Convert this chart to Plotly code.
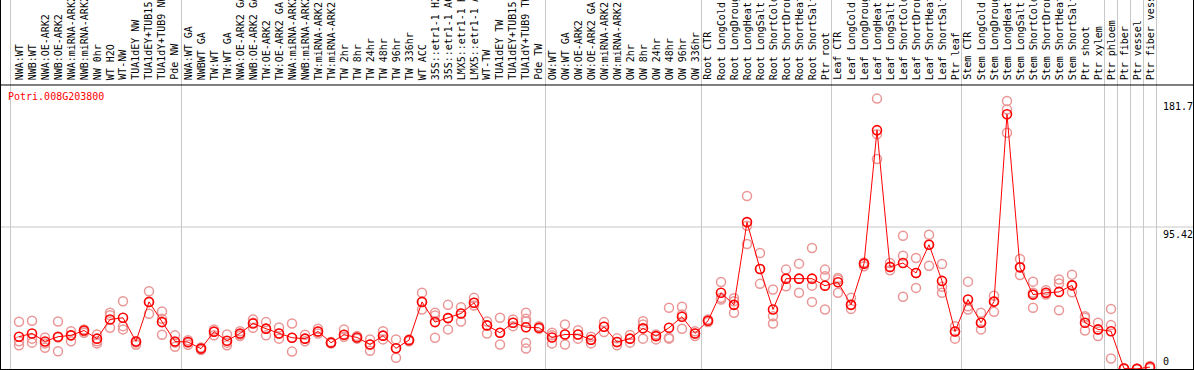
import plotly.graph_objects as go

title_text = "Potri.008G203800"

labels = [
    "NWA:WT", "NWB:WT", "NWA:OE-ARK2", "NWB:OE-ARK2", "NWA:miRNA-ARK2", "NWB:miRNA-ARK2",
    "NW 0hr", "WT H2O", "WT-NW", "TUA1dEY NW", "TUA1dEY+TUB15 NW", "TUA1dY+TUB9 NW", "Pde NW",
    "NWA:WT GA", "NWBWT GA", "TW:WT", "TW:WT GA", "NWA:OE-ARK2 GA", "NWB:OE-ARK2 GA",
    "TW:OE-ARK2", "TW:OE-ARK2 GA", "NWA:miRNA-ARK2 GA", "NWB:miRNA-ARK2 GA", "TW:miRNA-ARK2",
    "TW:miRNA-ARK2 GA", "TW 2hr", "TW 8hr", "TW 24hr", "TW 48hr", "TW 96hr", "TW 336hr",
    "WT ACC", "35S::etr1-1 H2O", "35S::etr1-1 ACC", "LMX5::etr1-1 H2O", "LMX5::etr1-1 ACC",
    "WT-TW", "TUA1dEY TW", "TUA1dEY+TUB15 TW", "TUA1dY+TUB9 TW", "Pde TW",
    "OW:WT", "OW:WT GA", "OW:OE-ARK2", "OW:OE-ARK2 GA", "OW:miRNA-ARK2", "OW:miRNA-ARK2 GA",
    "OW 2hr", "OW 8hr", "OW 24hr", "OW 48hr", "OW 96hr", "OW 336hr",
    "Root CTR", "Root LongCold", "Root LongDrought", "Root LongHeat", "Root LongSalt",
    "Root ShortCold", "Root ShortDrought", "Root ShortHeat", "Root ShortSalt", "Ptr root",
    "Leaf CTR", "Leaf LongCold", "Leaf LongDrought", "Leaf LongHeat", "Leaf LongSalt",
    "Leaf ShortCold", "Leaf ShortDrought", "Leaf ShortHeat", "Leaf ShortSalt", "Ptr leaf",
    "Stem CTR", "Stem LongCold", "Stem LongDrought", "Stem LongHeat", "Stem LongSalt",
    "Stem ShortCold", "Stem ShortDrought", "Stem ShortHeat", "Stem ShortSalt", "Ptr shoot",
    "Ptr xylem", "Ptr phloem", "Ptr fiber", "Ptr vessel", "Ptr fiber vessel",
]

means = [
    21.7, 23.9, 18.5, 21.7, 22.6, 25.9, 20.4, 33.3, 34.4, 18.5, 45.1, 31.5, 18.5,
    18.1, 13.7, 25.0, 19.0, 23.9, 30.6, 27.1, 23.9, 21.0, 20.4, 25.2, 17.7, 23.0, 21.2,
    16.5, 22.4, 13.9, 19.4, 45.1, 31.5, 34.2, 37.3, 44.5, 29.3, 24.4, 31.1, 28.1, 27.7,
    21.2, 23.2, 23.2, 19.7, 28.4, 18.1, 20.4, 27.3, 22.1, 27.7, 35.1, 23.9,
    32.4, 51.2, 43.1, 98.7, 67.2, 40.0, 60.7, 60.7, 60.7, 56.0,
    58.3, 43.1, 70.8, 160.5, 68.6, 71.2, 64.5, 83.5, 59.2, 25.2,
    46.7, 31.1, 45.3, 171.2, 68.3, 50.0, 51.2, 51.8, 56.2, 31.1,
    26.6, 25.4, 0.3, 0.1, 1.3,
]

reps = [
    [31.7, 18.7, 15.9], [32.4, 20.4, 17.7], [21.2, 17.2, 14.3], [31.9, 21.2, 11.9],
    [25.4, 22.6, 18.7], [26.6, 25.4, 24.4], [23.2, 18.7, 17.2], [37.8, 36.2, 27.7],
    [45.5, 28.8, 26.6], [18.7, 17.7, 16.3], [52.2, 45.1, 37.1], [38.6, 33.7, 23.0],
    [22.6, 17.7, 15.0],
    [19.4, 17.7, 16.3], [14.5, 13.7, 12.7], [26.6, 25.4, 22.6], [23.2, 17.7, 15.9],
    [25.4, 23.2, 22.1], [33.3, 31.1, 27.7], [31.5, 27.1, 22.6], [27.9, 23.9, 20.4],
    [30.6, 21.0, 11.7], [23.0, 20.4, 18.7], [27.1, 25.2, 23.9], [18.1, 17.7, 17.2],
    [26.6, 23.0, 21.7], [22.1, 21.2, 20.4], [19.9, 16.5, 12.3], [25.4, 22.4, 19.9],
    [19.9, 13.9, 7.6], [19.9, 19.4, 18.7], [51.2, 45.1, 40.0], [37.8, 36.0, 21.0],
    [43.1, 34.2, 26.6], [41.5, 37.3, 31.9], [47.8, 44.5, 42.7], [31.9, 29.3, 23.9],
    [34.4, 24.4, 16.5], [33.3, 31.1, 28.8], [37.8, 33.7, 31.9, 17.7, 13.7],
    [28.8, 27.7, 27.1],
    [24.4, 22.6, 17.2], [29.9, 23.2, 16.5], [26.1, 23.2, 20.4], [21.7, 19.7, 17.2],
    [31.5, 28.4, 24.8], [20.6, 18.1, 15.9], [22.8, 20.4, 17.7], [32.1, 29.9, 20.4],
    [23.2, 22.1, 19.9], [41.1, 21.0, 20.4], [41.8, 36.6, 27.1], [25.4, 23.9, 22.1],
    [33.3, 32.4, 31.5], [58.5, 47.8, 46.7], [47.5, 45.5, 37.8], [116.3, 96.2, 84.0],
    [77.9, 67.2, 57.2], [53.4, 35.5, 30.6], [66.8, 60.7, 55.6], [70.8, 60.7, 51.2],
    [81.3, 56.0, 45.1], [66.8, 62.3, 40.0],
    [61.2, 60.1, 51.2], [47.8, 43.1, 40.4], [71.6, 70.8, 69.0], [181.7, 157.8, 141.1],
    [71.2, 68.6, 66.3], [89.5, 76.1, 48.5], [74.6, 64.5, 54.5], [90.2, 83.5, 69.4],
    [70.6, 55.2, 51.2], [28.8, 25.2, 20.4],
    [58.7, 42.2, 40.0], [37.8, 31.1, 26.6], [49.3, 45.3, 38.4], [180.1, 174.4, 158.7],
    [73.9, 68.3, 63.2], [58.7, 51.2, 41.1], [52.9, 51.2, 50.0], [60.1, 57.4, 39.5],
    [63.4, 56.2, 51.6], [35.5, 34.4, 25.9],
    [31.1, 26.6, 22.1], [40.4, 29.5, 7.0], [0.5, 0.3, 0.0], [0.2, 0.1, 0.0],
    [2.0, 1.1, 0.5],
]

group_breaks = [-0.65, 12.5, 40.5, 52.5, 62.5, 72.5, 83.5, 84.5, 85.5, 86.5, 87.5]
y_tick_vals = [181.7, 95.42, 0]
y_tick_text = ["181.7", "95.42", "0"]
grid_vals = [95.42]

Y_PANEL_TOP = 190.84   # top edge of data panel (value)
Y_MAX = 247.95         # top of figure (label band above panel)
LABEL_Y = 192.6

x_idx = list(range(len(labels)))
rx, ry = [], []
for i, r in enumerate(reps):
    for v in r:
        rx.append(i)
        ry.append(v)

FONT = "DejaVu Sans Mono"

fig = go.Figure()
fig.add_trace(go.Scatter(
    x=rx, y=ry, mode="markers",
    marker=dict(symbol="circle-open", size=9, color="#eb9696", line=dict(width=1.5)),
    hoverinfo="skip",
))
fig.add_trace(go.Scatter(
    x=x_idx, y=means, mode="lines+markers",
    line=dict(color="#ff0000", width=1),
    marker=dict(symbol="circle-open", size=9, color="#ff0000", line=dict(width=1.6)),
))

shapes = []
for b in group_breaks:
    shapes.append(dict(type="line", xref="x", yref="paper", x0=b, x1=b, y0=0, y1=1,
                       line=dict(color="#c8c8c8", width=1), layer="below"))
for g in grid_vals:
    shapes.append(dict(type="line", xref="paper", yref="y", x0=0, x1=1, y0=g, y1=g,
                       line=dict(color="#c8c8c8", width=1), layer="below"))
shapes.append(dict(type="line", xref="paper", yref="y", x0=0, x1=1,
                   y0=Y_PANEL_TOP, y1=Y_PANEL_TOP, line=dict(color="black", width=1)))

annotations = []
for i, lab in enumerate(labels):
    annotations.append(dict(
        x=i, y=LABEL_Y, xref="x", yref="y", text=lab, textangle=-90, showarrow=False,
        xanchor="center", yanchor="bottom",
        font=dict(family=FONT, size=10, color="black"),
    ))
annotations.append(dict(
    x=0.004, y=182.8, xref="paper", yref="y", text=title_text, showarrow=False,
    xanchor="left", yanchor="middle", font=dict(family=FONT, size=10, color="#ff0000"),
))
for v, t in zip(y_tick_vals, y_tick_text):
    annotations.append(dict(
        x=0.973, y=v, xref="paper", yref="y", text=t, showarrow=False,
        xanchor="left", yanchor="top" if v > 0 else "bottom",
        font=dict(family=FONT, size=10, color="black"),
    ))

fig.update_layout(
    width=1194, height=370,
    margin=dict(l=1, r=1, t=0, b=1, pad=0),
    paper_bgcolor="white", plot_bgcolor="white",
    showlegend=False,
    shapes=shapes, annotations=annotations,
    xaxis=dict(range=[-1.3846, 90.3077], showgrid=False, zeroline=False,
               showticklabels=False, ticks="", showline=True, linecolor="black",
               linewidth=1, mirror=False),
    yaxis=dict(range=[0, Y_MAX], showgrid=False, zeroline=False,
               showticklabels=False, ticks="", showline=True, linecolor="black",
               linewidth=1, mirror=True),
)

fig.write_html("out.html", config={"displayModeBar": False},
               post_script="document.body.style.margin='0';")
